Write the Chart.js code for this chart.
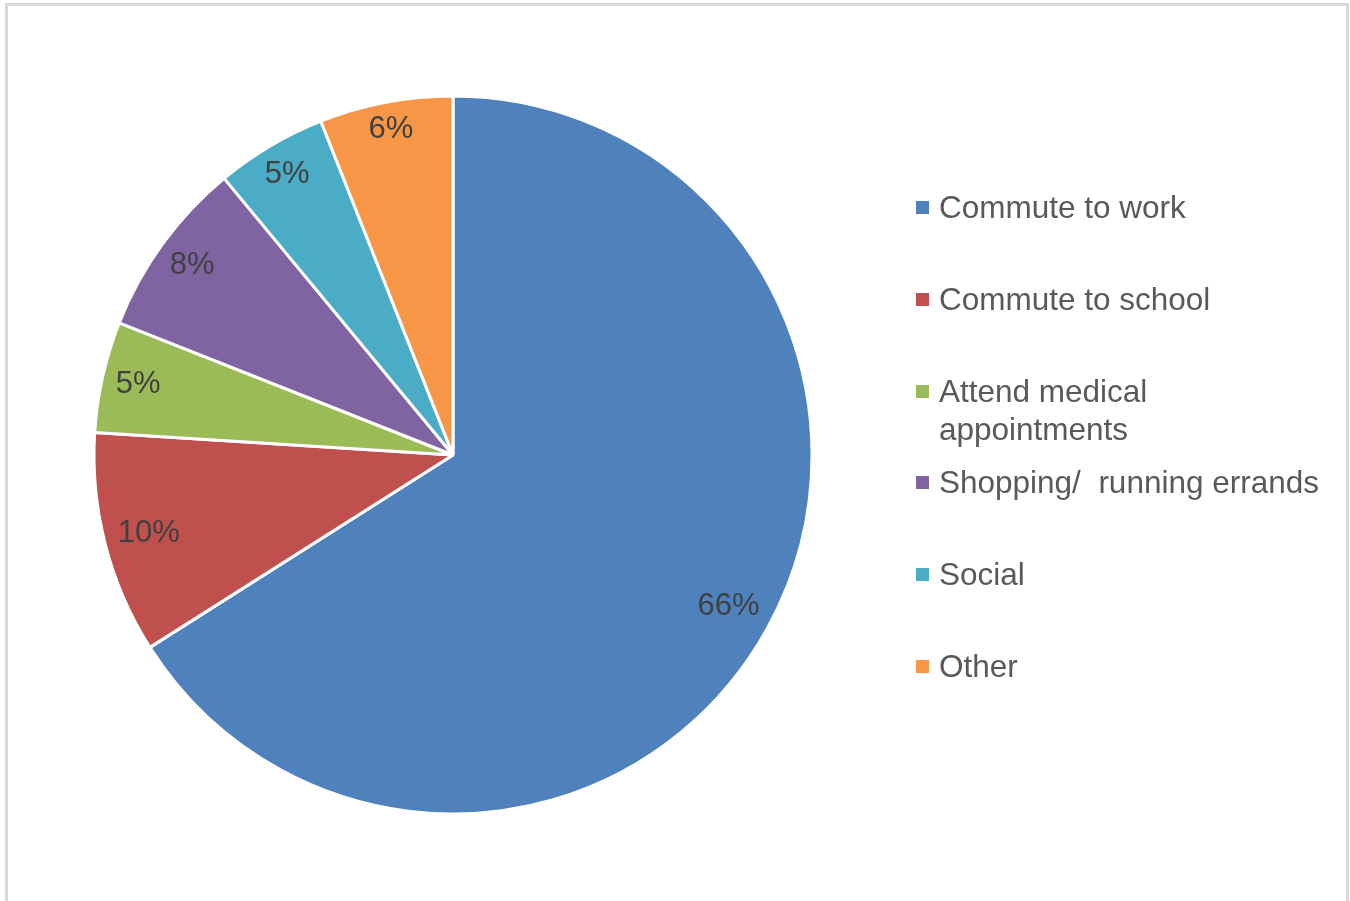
<!DOCTYPE html>
<html>
<head>
<meta charset="utf-8">
<script src="https://cdn.jsdelivr.net/npm/chart.js@4.4.1/dist/chart.umd.min.js"></script>
<style>
    html, body { margin: 0; padding: 0; background: #fff; }
    body { width: 1350px; height: 901px; position: relative; overflow: hidden; font-family: "Liberation Sans", Arial, sans-serif; }
    .frame { position: absolute; left: 5px; top: 3px; width: 1338px; height: 910px; border: 3px solid #d9d9d9; border-bottom: none; }
    .chart-box { position: absolute; left: 0; top: 0; width: 1350px; height: 901px; }
    #legend { position: absolute; left: 916px; top: 188px; margin: 0; padding: 0; list-style: none; }
    #legend li { position: relative; height: 91.8px; padding-left: 23px; font-size: 31.5px; line-height: 38px; color: #595959; width: 400px; }
    #legend li span.box { position: absolute; left: 0; top: 13px; width: 13px; height: 13px; }
</style>
</head>
<body>
<div class="frame"></div>
<div class="chart-box"><canvas id="tripChart"></canvas></div>
<ul id="legend"></ul>

<script>
// Trip purpose shares (percent)
const purposes = ['Commute to work', 'Commute to school', 'Attend medical appointments', 'Shopping/ running errands', 'Social', 'Other'];
const legendLines = [['Commute to work'], ['Commute to school'], ['Attend medical', 'appointments'], ['Shopping/\u00a0 running errands'], ['Social'], ['Other']];
const shares = [66, 10, 5, 8, 5, 6];
const sliceColors = ['#4F81BD', '#C0504D', '#9BBB59', '#8064A2', '#4BACC6', '#F79646'];

// Percent labels placed "inside end": pushed out along the mid-angle until the text box meets the rim
const insideEndLabels = {
    id: 'insideEndLabels',
    afterDatasetsDraw(chart) {
        const ctx = chart.ctx;
        const meta = chart.getDatasetMeta(0);
        ctx.save();
        ctx.font = '31px "Liberation Sans", Arial, sans-serif';
        ctx.fillStyle = '#404040';
        ctx.textAlign = 'center';
        ctx.textBaseline = 'middle';
        meta.data.forEach((arc, i) => {
            const p = arc.getProps(['x', 'y', 'startAngle', 'endAngle', 'outerRadius'], true);
            const mid = (p.startAngle + p.endAngle) / 2;
            const dx = Math.cos(mid), dy = Math.sin(mid);
            const text = shares[i] + '%';
            const w = ctx.measureText(text).width;
            const h = 22;
            const limit = p.outerRadius - 12;
            let lo = 0, hi = p.outerRadius;
            for (let k = 0; k < 40; k++) {
                const d = (lo + hi) / 2;
                const cx = d * dx, cy = d * dy;
                let far = 0;
                [[-1, -1], [1, -1], [-1, 1], [1, 1]].forEach(([sx, sy]) => {
                    far = Math.max(far, Math.hypot(cx + sx * w / 2, cy + sy * h / 2));
                });
                if (far > limit) hi = d; else lo = d;
            }
            ctx.fillText(text, p.x + lo * dx, p.y + lo * dy);
        });
        ctx.restore();
    }
};

function buildLegend() {
    const ul = document.getElementById('legend');
    ul.innerHTML = purposes.map((name, i) => `
        <li title="${name}"><span class="box" style="background:${sliceColors[i]}"></span>${legendLines[i].join('<br>')}</li>
    `).join('');
}

function initChart() {
    const ctx = document.getElementById('tripChart').getContext('2d');
    new Chart(ctx, {
        type: 'pie',
        data: {
            labels: purposes,
            datasets: [{
                data: shares,
                backgroundColor: sliceColors,
                borderColor: '#ffffff',
                borderWidth: 3,
                hoverOffset: 0
            }]
        },
        options: {
            responsive: true,
            maintainAspectRatio: false,
            animation: false,
            layout: {
                padding: { left: 92.5, top: 94.5, right: 536.5, bottom: 85.5 }
            },
            plugins: {
                legend: { display: false },
                tooltip: { enabled: false }
            }
        },
        plugins: [insideEndLabels]
    });
}

buildLegend();
initChart();
</script>
</body>
</html>
